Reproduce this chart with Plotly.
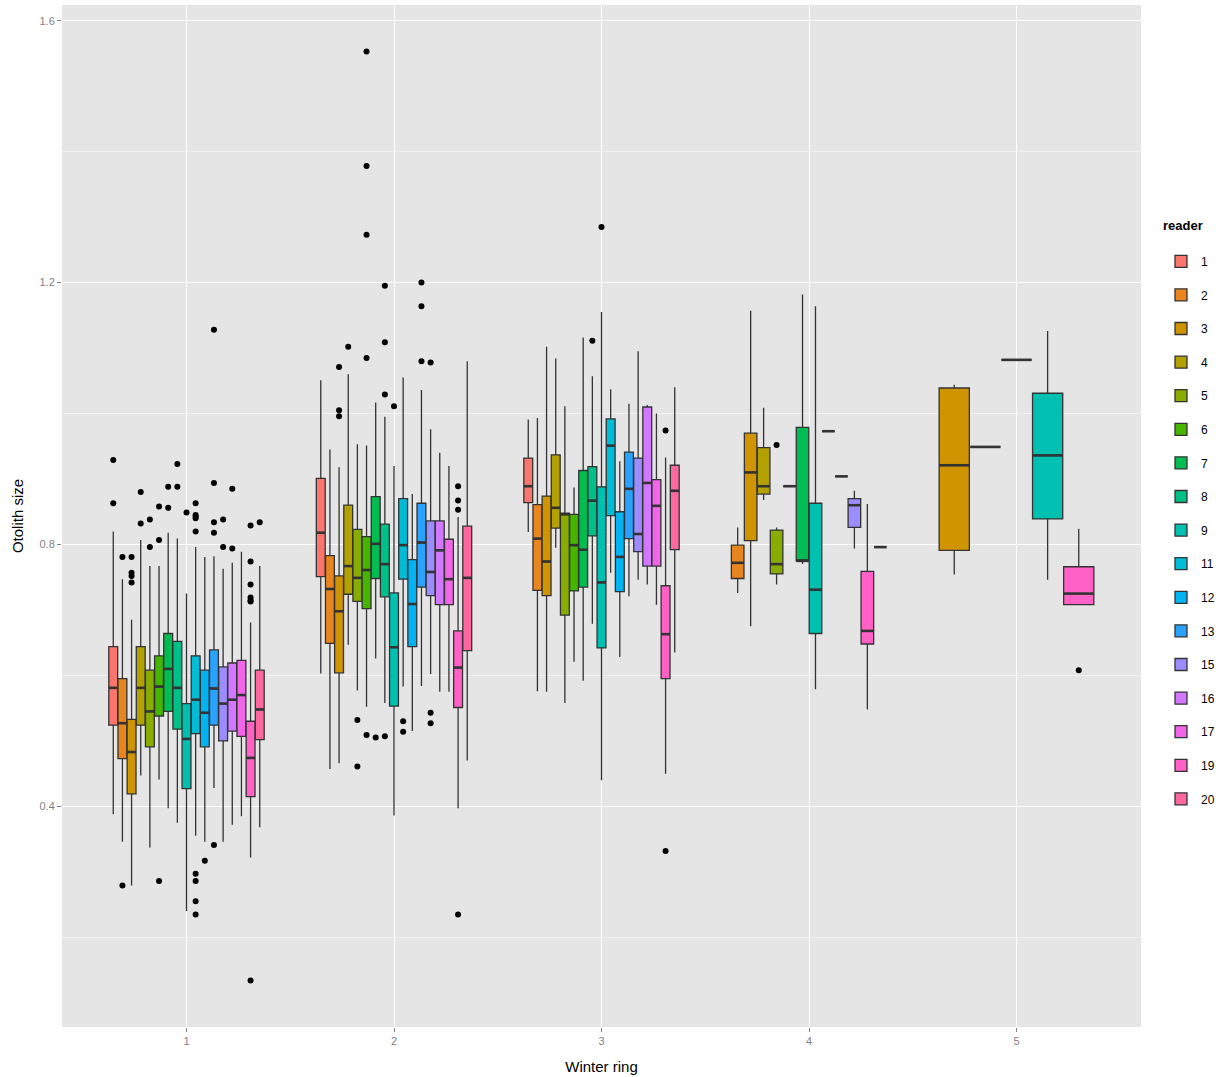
import math
import plotly.graph_objects as go

# ---------------- data ----------------
rings = [1, 2, 3, 4, 5]
all_readers = [1, 2, 3, 4, 5, 6, 7, 8, 9, 11, 12, 13, 15, 16, 17, 19, 20]

ring1_readers = [1, 2, 3, 4, 5, 6, 7, 8, 9, 11, 12, 13, 15, 16, 17, 19, 20]
ring1_low = [0.388, 0.346, 0.279, 0.447, 0.337, 0.441, 0.397, 0.375, 0.240, 0.355, 0.346, 0.428, 0.346, 0.372, 0.385, 0.322, 0.368]
ring1_q1 = [0.524, 0.473, 0.419, 0.524, 0.491, 0.538, 0.545, 0.518, 0.427, 0.511, 0.491, 0.524, 0.500, 0.515, 0.507, 0.415, 0.502]
ring1_med = [0.581, 0.527, 0.483, 0.581, 0.545, 0.583, 0.610, 0.581, 0.503, 0.563, 0.543, 0.580, 0.557, 0.563, 0.570, 0.474, 0.548]
ring1_q3 = [0.644, 0.595, 0.533, 0.644, 0.608, 0.630, 0.664, 0.652, 0.557, 0.630, 0.608, 0.639, 0.613, 0.619, 0.623, 0.530, 0.608]
ring1_high = [0.820, 0.747, 0.685, 0.807, 0.767, 0.767, 0.818, 0.809, 0.725, 0.796, 0.781, 0.782, 0.763, 0.772, 0.789, 0.681, 0.767]
ring1_out_reader = [1, 1, 2, 2, 3, 3, 3, 3, 4, 4, 5, 5, 6, 6, 6, 7, 7, 8, 8, 9,
                    11, 11, 11, 11, 11, 11, 11, 11, 11, 12, 13, 13, 13, 13, 13,
                    15, 15, 16, 16, 19, 19, 19, 19, 19, 19, 19, 20]
ring1_out_value = [0.929, 0.863, 0.781, 0.279, 0.781, 0.757, 0.752, 0.742, 0.880, 0.832, 0.838, 0.796,
                   0.858, 0.807, 0.286, 0.888, 0.856, 0.923, 0.888, 0.849,
                   0.863, 0.845, 0.843, 0.840, 0.820, 0.297, 0.286, 0.255, 0.235, 0.317,
                   1.128, 0.894, 0.834, 0.818, 0.341, 0.838, 0.796, 0.885, 0.794,
                   0.829, 0.774, 0.739, 0.719, 0.715, 0.713, 0.134, 0.834]

ring2_readers = [1, 2, 3, 4, 5, 6, 7, 8, 9, 11, 12, 13, 15, 16, 17, 19, 20]
ring2_low = [0.603, 0.457, 0.466, 0.647, 0.577, 0.552, 0.626, 0.558, 0.386, 0.583, 0.515, 0.584, 0.602, 0.575, 0.575, 0.397, 0.470]
ring2_q1 = [0.751, 0.649, 0.604, 0.724, 0.713, 0.702, 0.748, 0.720, 0.553, 0.747, 0.644, 0.735, 0.722, 0.708, 0.708, 0.551, 0.638]
ring2_med = [0.818, 0.732, 0.698, 0.767, 0.749, 0.761, 0.801, 0.770, 0.643, 0.799, 0.709, 0.803, 0.758, 0.791, 0.747, 0.612, 0.749]
ring2_q3 = [0.901, 0.783, 0.752, 0.860, 0.823, 0.812, 0.873, 0.831, 0.726, 0.870, 0.777, 0.863, 0.836, 0.836, 0.808, 0.668, 0.828]
ring2_high = [1.051, 0.945, 0.918, 1.060, 0.953, 0.951, 1.017, 0.995, 0.920, 1.055, 0.877, 1.036, 0.976, 0.940, 0.920, 0.842, 1.080]
ring2_out_reader = [3, 3, 3, 4, 5, 5, 6, 6, 6, 6, 6, 7, 8, 8, 8, 8, 9, 11, 11,
                    13, 13, 13, 15, 15, 15, 19, 19, 19, 19]
ring2_out_value = [1.071, 1.005, 0.996, 1.102, 0.532, 0.461, 1.553, 1.378, 1.273, 1.085, 0.509, 0.505,
                   1.195, 1.109, 1.029, 0.507, 1.011, 0.530, 0.514, 1.200, 1.164, 1.080,
                   1.078, 0.543, 0.527, 0.889, 0.867, 0.853, 0.235]

ring3_readers = [1, 2, 3, 4, 5, 6, 7, 8, 9, 11, 12, 13, 15, 16, 17, 19, 20]
ring3_low = [0.819, 0.576, 0.575, 0.795, 0.558, 0.621, 0.592, 0.679, 0.440, 0.757, 0.628, 0.721, 0.746, 0.739, 0.708, 0.450, 0.635]
ring3_q1 = [0.864, 0.730, 0.722, 0.825, 0.692, 0.729, 0.735, 0.813, 0.642, 0.844, 0.728, 0.809, 0.789, 0.767, 0.767, 0.595, 0.792]
ring3_med = [0.889, 0.809, 0.774, 0.856, 0.846, 0.799, 0.792, 0.867, 0.742, 0.951, 0.781, 0.885, 0.816, 0.894, 0.859, 0.663, 0.882]
ring3_q3 = [0.932, 0.861, 0.874, 0.937, 0.848, 0.846, 0.913, 0.919, 0.888, 0.992, 0.850, 0.941, 0.932, 1.010, 0.899, 0.737, 0.921]
ring3_high = [0.991, 0.993, 1.102, 1.084, 1.011, 0.887, 1.116, 1.057, 1.155, 1.037, 0.927, 1.015, 1.095, 1.013, 1.000, 0.933, 1.040]
ring3_out_reader = [8, 9, 19, 19]
ring3_out_value = [1.111, 1.285, 0.974, 0.332]

ring4_readers = [2, 3, 4, 5, 6, 7, 9, 11, 12, 15, 19, 20]
ring4_low = [0.726, 0.675, 0.868, 0.739, 0.889, 0.770, 0.579, 0.973, 0.904, 0.794, 0.548, 0.796]
ring4_q1 = [0.748, 0.806, 0.877, 0.755, 0.889, 0.775, 0.664, 0.973, 0.904, 0.826, 0.648, 0.796]
ring4_med = [0.772, 0.910, 0.889, 0.770, 0.889, 0.775, 0.731, 0.973, 0.904, 0.860, 0.668, 0.796]
ring4_q3 = [0.799, 0.970, 0.948, 0.822, 0.889, 0.979, 0.863, 0.973, 0.904, 0.870, 0.759, 0.796]
ring4_high = [0.826, 1.157, 1.009, 0.826, 0.889, 1.182, 1.164, 0.973, 0.904, 0.882, 0.862, 0.796]
ring4_out_reader = [5]
ring4_out_value = [0.952]

ring5_readers = [3, 5, 8, 9, 19]
ring5_low = [0.754, 0.949, 1.082, 0.746, 0.708]
ring5_q1 = [0.791, 0.949, 1.082, 0.839, 0.708]
ring5_med = [0.921, 0.949, 1.082, 0.936, 0.725]
ring5_q3 = [1.039, 0.949, 1.082, 1.031, 0.766]
ring5_high = [1.044, 0.949, 1.082, 1.126, 0.824]
ring5_out_reader = [19]
ring5_out_value = [0.608]

y_ticks = [0.4, 0.8, 1.2, 1.6]
x_tick_labels = ["1", "2", "3", "4", "5"]

ring_data = {
    1: (ring1_readers, ring1_low, ring1_q1, ring1_med, ring1_q3, ring1_high, ring1_out_reader, ring1_out_value),
    2: (ring2_readers, ring2_low, ring2_q1, ring2_med, ring2_q3, ring2_high, ring2_out_reader, ring2_out_value),
    3: (ring3_readers, ring3_low, ring3_q1, ring3_med, ring3_q3, ring3_high, ring3_out_reader, ring3_out_value),
    4: (ring4_readers, ring4_low, ring4_q1, ring4_med, ring4_q3, ring4_high, ring4_out_reader, ring4_out_value),
    5: (ring5_readers, ring5_low, ring5_q1, ring5_med, ring5_q3, ring5_high, ring5_out_reader, ring5_out_value),
}


# ---------------- ggplot2 hue palette ----------------
def hcl_hex(h, c=100.0, l=65.0):
    Xn, Yn, Zn = 95.047, 100.0, 108.883
    hr = math.radians(h)
    u, v = c * math.cos(hr), c * math.sin(hr)
    Y = Yn * ((l + 16) / 116) ** 3
    d = Xn + 15 * Yn + 3 * Zn
    un, vn = 4 * Xn / d, 9 * Yn / d
    up, vp = u / (13 * l) + un, v / (13 * l) + vn
    X = Y * 9 * up / (4 * vp)
    Z = Y * (12 - 3 * up - 20 * vp) / (4 * vp)
    X, Y, Z = X / 100, Y / 100, Z / 100
    r = 3.240479 * X - 1.537150 * Y - 0.498535 * Z
    g = -0.969256 * X + 1.875992 * Y + 0.041556 * Z
    b = 0.055648 * X - 0.204043 * Y + 1.057311 * Z

    def gam(t):
        t = 12.92 * t if t <= 0.0031308 else 1.055 * t ** (1 / 2.4) - 0.055
        return int(round(max(0.0, min(1.0, t)) * 255))
    return "#%02X%02X%02X" % (gam(r), gam(g), gam(b))


n_all = len(all_readers)
colors = {rd: hcl_hex(15 + 360.0 * i / n_all) for i, rd in enumerate(all_readers)}

DODGE = 0.75
LINE = "#333333"

fig = go.Figure()
med_x, med_y = [], []
out_x, out_y = [], []
shown = set()

for ring in rings:
    readers, low, q1, med, q3, high, o_r, o_v = ring_data[ring]
    n = len(readers)
    w = DODGE / n
    pos = {rd: ring - DODGE / 2 + (i + 0.5) * w for i, rd in enumerate(readers)}
    for i, rd in enumerate(readers):
        fig.add_trace(go.Box(
            x=[pos[rd]], q1=[q1[i]], median=[med[i]], q3=[q3[i]],
            lowerfence=[low[i]], upperfence=[high[i]],
            width=w * 0.97, boxpoints=False, whiskerwidth=0,
            fillcolor=colors[rd], line=dict(color=LINE, width=1.3),
            name=str(rd), legendgroup=str(rd), showlegend=rd not in shown,
            hoverinfo="skip",
        ))
        shown.add(rd)
        med_x += [pos[rd] - w * 0.485, pos[rd] + w * 0.485, None]
        med_y += [med[i], med[i], None]
    for rd, val in zip(o_r, o_v):
        out_x.append(pos[rd])
        out_y.append(val)

fig.add_trace(go.Scatter(x=med_x, y=med_y, mode="lines", line=dict(color=LINE, width=2.6),
                         showlegend=False, hoverinfo="skip"))
fig.add_trace(go.Scatter(x=out_x, y=out_y, mode="markers",
                         marker=dict(color="black", size=6), showlegend=False, hoverinfo="skip"))

FONT = "Liberation Sans, Arial, sans-serif"
fig.update_layout(
    width=1219, height=1077,
    margin=dict(l=62, r=78, t=5, b=50),
    paper_bgcolor="white", plot_bgcolor="#E5E5E5",
    boxmode="overlay",
    font=dict(family=FONT, size=12, color="black"),
    xaxis=dict(
        range=[0.4, 5.6], tickmode="array", tickvals=rings, ticktext=x_tick_labels,
        showgrid=True, gridcolor="white", gridwidth=1.2, zeroline=False,
        ticks="outside", ticklen=4, tickcolor="#7F7F7F", tickwidth=1,
        tickfont=dict(size=11, color="#7F7F7F"),
        title=dict(text="Winter ring", font=dict(size=15, color="black"), standoff=15),
        automargin=False,
    ),
    yaxis=dict(
        range=[0.063, 1.624], tickmode="array", tickvals=y_ticks,
        ticktext=["%.1f" % t for t in y_ticks],
        showgrid=True, gridcolor="white", gridwidth=1.2, zeroline=False,
        ticks="outside", ticklen=4, tickcolor="#7F7F7F", tickwidth=1,
        tickfont=dict(size=11, color="#7F7F7F"),
        minor=dict(tickmode="array", tickvals=[0.2, 0.6, 1.0, 1.4], showgrid=True,
                   gridcolor="#F2F2F2", gridwidth=0.6, ticks=""),
        title=dict(text="Otolith size", font=dict(size=15, color="black"), standoff=12),
        automargin=False,
    ),
    legend=dict(
        title=dict(text="<b>reader</b><br><span style='font-size:5px'>&nbsp;</span>",
                   font=dict(size=13)),
        xref="container", yref="container", x=1161 / 1219, y=1 - 213 / 1077,
        xanchor="left", yanchor="top", maxheight=900,
        font=dict(size=12), tracegroupgap=14.6, bgcolor="white",
        itemclick=False, itemdoubleclick=False,
    ),
)

fig.write_html("out.html", config={"displayModeBar": False},
               post_script="document.body.style.margin='0';document.body.style.overflow='hidden';")
